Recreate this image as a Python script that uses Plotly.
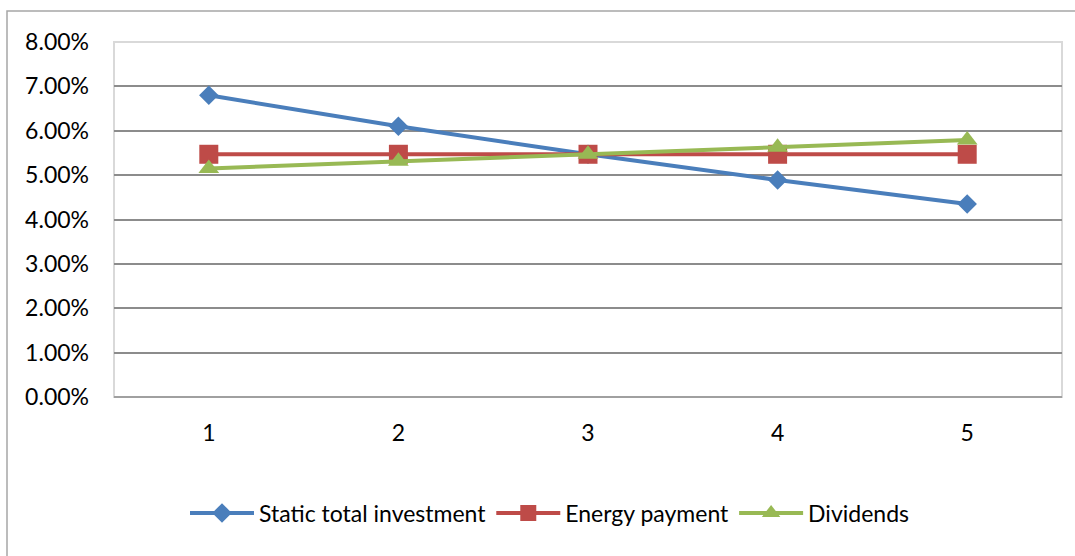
import plotly.graph_objects as go

periods = [1, 2, 3, 4, 5]
static_total_investment = [0.0680, 0.0610, 0.0547, 0.0489, 0.0435]
energy_payment = [0.0547, 0.0547, 0.0547, 0.0547, 0.0547]
dividends = [0.0515, 0.0531, 0.0547, 0.0563, 0.0579]
y_ticks = [0, 0.01, 0.02, 0.03, 0.04, 0.05, 0.06, 0.07, 0.08]

FONT = "Lato"
FS = 23

fig = go.Figure()
fig.add_trace(go.Scatter(
    x=periods, y=static_total_investment, name="Static total investment",
    mode="lines+markers",
    line=dict(color="#4A7EBB", width=4),
    marker=dict(symbol="diamond", size=15, color="#4A7EBB"),
))
fig.add_trace(go.Scatter(
    x=periods, y=energy_payment, name="Energy payment",
    mode="lines+markers",
    line=dict(color="#BE4B48", width=4),
    marker=dict(symbol="square", size=19, color="#BE4B48"),
))
fig.add_trace(go.Scatter(
    x=periods, y=dividends, name="Dividends",
    mode="lines+markers",
    line=dict(color="#98B954", width=4),
    marker=dict(symbol="triangle-up", size=18, color="#98B954"),
))

L, R, T, B = 114, 13, 42, 159
W = 1075 - L - R
H = 556 - T - B

def px(x):
    return (x - L) / W

def py(y):
    return (556 - B - y) / H

fig.update_layout(
    width=1075, height=556,
    margin=dict(l=L, r=R, t=T, b=B),
    paper_bgcolor="white", plot_bgcolor="white",
    font=dict(family=FONT, size=FS, color="black"),
    showlegend=True,
    legend=dict(
        orientation="h", x=px(550), xanchor="center", y=py(513), yanchor="middle",
        font=dict(family=FONT, size=FS, color="black"),
        itemwidth=64, tracegroupgap=0, traceorder="normal",
        bgcolor="rgba(0,0,0,0)",
    ),
    xaxis=dict(
        range=[0.5, 5.5], tickvals=periods, ticktext=[str(p) for p in periods],
        showgrid=False, zeroline=False, showline=False,
        ticks="", ticklabelstandoff=20,
        tickfont=dict(family=FONT, size=FS, color="black"),
    ),
    yaxis=dict(
        range=[0, 0.08], tickvals=y_ticks, tickformat=".2%",
        showgrid=True, gridcolor="#8C8C8C", gridwidth=1.5,
        zeroline=False, showline=False, ticks="", ticklabelstandoff=24,
        tickfont=dict(family=FONT, size=FS, color="black"),
    ),
    shapes=[
        dict(type="rect", xref="paper", yref="paper",
             x0=px(7), x1=px(1080), y0=py(11), y1=py(600),
             line=dict(color="#A6A6A6", width=1.5), layer="below"),
        dict(type="rect", xref="paper", yref="paper", x0=0, x1=1, y0=0, y1=1,
             line=dict(color="#D9D9D9", width=2), layer="below"),
        dict(type="line", xref="paper", yref="paper", x0=0, x1=1, y0=0, y1=0,
             line=dict(color="#8C8C8C", width=1.5), layer="below"),
    ],
)

fig.write_html("out.html")
